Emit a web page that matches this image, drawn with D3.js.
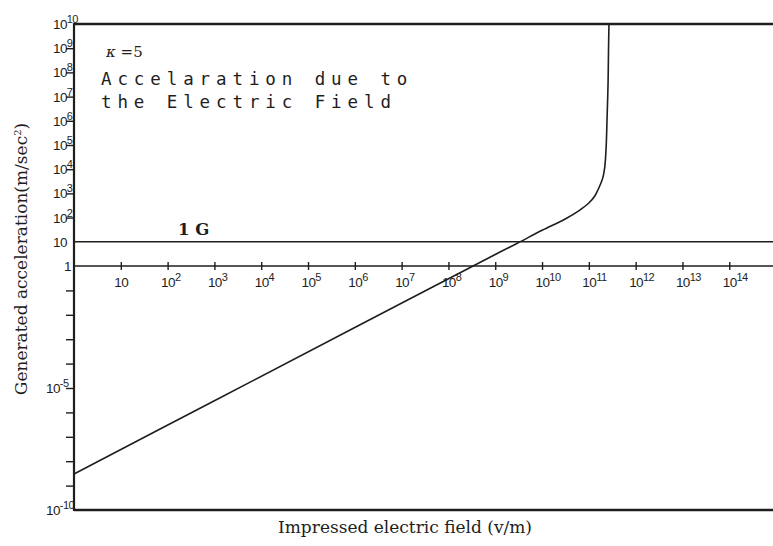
<!DOCTYPE html>
<html>
<head>
<meta charset="utf-8">
<script src="https://cdn.jsdelivr.net/npm/d3@7/dist/d3.min.js"></script>
<style>
  html, body { margin: 0; padding: 0; background: #fff; }
  svg { display: block; }
</style>
</head>
<body>
<svg id="chart" width="773" height="546"></svg>
<script>
// Impressed electric field E (v/m) and generated acceleration a (m/sec^2), kappa = 5
const fieldValues = [1, 1e3, 1e6, 1e9, 2.9e9, 1e10, 3.2e10, 6.3e10, 1e11, 1.35e11,
                     1.66e11, 2.0e11, 2.19e11, 2.34e11, 2.45e11, 2.57e11, 2.63e11, 2.69e11];
const accelValues = [3e-9, 3e-6, 3e-3, 3, 8.5, 30, 90, 200, 400, 800,
                     1.8e3, 4.6e3, 1.25e4, 8e4, 1.25e6, 3.2e7, 8e8, 1e10];

// Tick exponents
const xTickExponents = [1, 2, 3, 4, 5, 6, 7, 8, 9, 10, 11, 12, 13, 14];
const yTickExponentsUpper = [2, 3, 4, 5, 6, 7, 8, 9];
const yTickExponentsLower = [-1, -2, -3, -4, -5, -6, -7, -8, -9];
const yLabelExponents = [10, 9, 8, 7, 6, 5, 4, 3, 2, -5, -10];

const oneG = 10;          // 1 G reference line (m/sec^2)
const fieldMax = 8.6e14;  // right edge of the plotting area

const svg = d3.select("#chart");
const ink = "#1e1e1e";
const labelFont = "'Liberation Sans', 'DejaVu Sans', sans-serif";

const x = d3.scaleLog().domain([1, fieldMax]).range([74, 773]);
const y = d3.scaleLog().domain([1e-10, 1, 1e10]).range([510, 266, 24]);

function tickLabel(sel, base, exp) {
  sel.attr("font-family", labelFont).attr("font-size", 13.5)
    .attr("letter-spacing", -0.6).attr("fill", ink).style("font-weight", 300);
  sel.append("tspan").text(base);
  if (exp !== null) sel.append("tspan").attr("dy", -6).attr("font-size", 11).text(exp);
}

// frame: left axis, top line, bottom line
svg.append("line").attr("x1", x(1)).attr("x2", x(1)).attr("y1", y(1e10) - 1).attr("y2", y(1e-10) + 1)
  .attr("stroke", ink).attr("stroke-width", 2.2);
svg.append("line").attr("x1", x(1)).attr("x2", 773).attr("y1", y(1e10)).attr("y2", y(1e10))
  .attr("stroke", ink).attr("stroke-width", 2.6);
svg.append("line").attr("x1", x(1)).attr("x2", 773).attr("y1", y(1e-10)).attr("y2", y(1e-10))
  .attr("stroke", ink).attr("stroke-width", 2.6);

// horizontal x axis at a = 1, with ticks crossing it
const xAxis = d3.axisBottom(x)
  .tickValues(xTickExponents.map(e => Math.pow(10, e)))
  .tickSize(0).tickFormat("");
const gx = svg.append("g").attr("transform", `translate(0,${y(1)})`).call(xAxis);
gx.select(".domain").remove();
svg.append("line").attr("x1", x(1)).attr("x2", 773).attr("y1", y(1)).attr("y2", y(1))
  .attr("stroke", ink).attr("stroke-width", 1.6);
gx.selectAll(".tick").append("line").attr("y1", -4).attr("y2", 4)
  .attr("stroke", ink).attr("stroke-width", 1.4);
gx.selectAll(".tick").each(function (d, i) {
  const e = xTickExponents[i];
  const t = d3.select(this).append("text").attr("x", -7).attr("y", 21).attr("text-anchor", "start");
  tickLabel(t, "10", e > 1 ? String(e) : null);
});

// 1 G line
svg.append("line").attr("x1", x(1)).attr("x2", 773).attr("y1", y(oneG)).attr("y2", y(oneG))
  .attr("stroke", ink).attr("stroke-width", 1.6);
svg.append("text").attr("x", 178).attr("y", y(oneG) - 7)
  .attr("font-family", "'DejaVu Serif', serif").attr("font-weight", "bold")
  .attr("font-size", 16.5).attr("fill", ink).text("1 G");

// y ticks on the left axis
const yTicks = yTickExponentsUpper.concat(yTickExponentsLower).map(e => Math.pow(10, e));
const yAxis = d3.axisLeft(y).tickValues(yTicks).tickSize(8).tickFormat("");
const gy = svg.append("g").attr("transform", `translate(${x(1)},0)`).call(yAxis);
gy.select(".domain").remove();
gy.selectAll(".tick line").attr("stroke", ink).attr("stroke-width", 1.4);

// y labels
yLabelExponents.forEach(e => {
  const t = svg.append("text")
    .attr("x", e < 0 ? 46 : 53).attr("y", y(Math.pow(10, e)) + 5);
  tickLabel(t, "10", e < 0 ? "-" + (-e) : String(e));
});
tickLabel(svg.append("text").attr("x", 53).attr("y", y(10) + 5), "10", null);
tickLabel(svg.append("text").attr("x", 64).attr("y", y(1) + 5), "1", null);

// acceleration curve
const pts = fieldValues.map((f, i) => [f, accelValues[i]]);
svg.append("path").datum(pts)
  .attr("fill", "none").attr("stroke", ink).attr("stroke-width", 1.6)
  .attr("d", d3.line().x(d => x(d[0])).y(d => y(d[1])).curve(d3.curveCatmullRom.alpha(0.5)));

// annotations
const kt = svg.append("text").attr("x", 106).attr("y", 57)
  .attr("font-family", "'DejaVu Serif', serif").attr("font-size", 15).attr("fill", ink);
kt.append("tspan").attr("font-style", "italic").text("\u03BA");
kt.append("tspan").text(" =5");

const mono = "'DejaVu Sans Mono', 'Liberation Mono', monospace";
svg.append("text").attr("x", 101).attr("y", 85)
  .attr("font-family", mono).attr("font-size", 17.5).attr("fill", ink)
  .attr("letter-spacing", 5.9).style("font-weight", 300)
  .text("Accelaration due to");
svg.append("text").attr("x", 101).attr("y", 108)
  .attr("font-family", mono).attr("font-size", 17.5).attr("fill", ink)
  .attr("letter-spacing", 5.9).style("font-weight", 300)
  .text("the Electric Field");

// axis titles
svg.append("text")
  .attr("transform", `translate(27,259) rotate(-90)`)
  .attr("text-anchor", "middle")
  .attr("font-family", "'DejaVu Serif', serif").attr("font-size", 17).attr("fill", ink)
  .html("Generated acceleration(m/sec<tspan dy='-6' font-size='10'>2</tspan><tspan dy='6'>)</tspan>");

svg.append("text").attr("x", 405).attr("y", 533)
  .attr("text-anchor", "middle")
  .attr("font-family", "'DejaVu Serif', serif").attr("font-size", 17).attr("fill", ink)
  .text("Impressed electric field (v/m)");
</script>
</body>
</html>
